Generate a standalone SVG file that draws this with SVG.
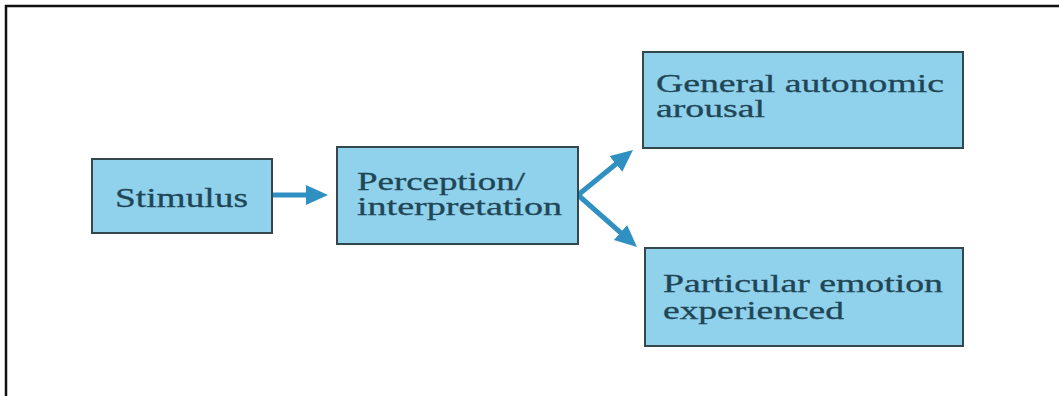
<svg xmlns="http://www.w3.org/2000/svg" width="1059" height="396" viewBox="0 0 1059 396">
  <style>
    .box { fill: #90d1ec; stroke: #34464e; stroke-width: 2; }
    .lbl { font-family: "Liberation Serif", "DejaVu Serif", serif; fill: #1f4656; stroke: #1f4656; stroke-width: 0.3; }
    .conn { stroke: #3190c2; stroke-width: 5; fill: none; }
    .frame { stroke: #111; stroke-width: 2.5; fill: none; }
  </style>
  <defs>
    <marker id="head" markerUnits="userSpaceOnUse" markerWidth="24" markerHeight="22" refX="2" refY="10" orient="auto">
      <path d="M0,0 L22,10 L0,20 Z" fill="#3190c2"/>
    </marker>
  </defs>
  <rect width="1059" height="396" fill="#ffffff"/>
  <path class="frame" d="M6,396 L6,6 L1059,6"/>

  <g id="connectors">
    <line class="conn" x1="272" y1="195" x2="308" y2="195" marker-end="url(#head)"/>
    <line class="conn" x1="578" y1="195" x2="617.5" y2="162.7" marker-end="url(#head)"/>
    <line class="conn" x1="578" y1="195" x2="622" y2="233.8" marker-end="url(#head)"/>
  </g>

  <g id="stimulus">
    <rect class="box" x="92" y="159" width="180" height="74"/>
    <text class="lbl" x="115" y="207" font-size="28" textLength="133" lengthAdjust="spacingAndGlyphs">Stimulus</text>
  </g>

  <g id="perception">
    <rect class="box" x="337" y="147" width="241" height="97"/>
    <text class="lbl" x="357" y="190" font-size="25" textLength="168" lengthAdjust="spacingAndGlyphs">Perception/</text>
    <text class="lbl" x="357" y="215" font-size="25" textLength="205" lengthAdjust="spacingAndGlyphs">interpretation</text>
  </g>

  <g id="general">
    <rect class="box" x="643" y="52" width="320" height="96"/>
    <text class="lbl" x="656" y="92" font-size="25" textLength="288" lengthAdjust="spacingAndGlyphs">General autonomic</text>
    <text class="lbl" x="656" y="117" font-size="25" textLength="109" lengthAdjust="spacingAndGlyphs">arousal</text>
  </g>

  <g id="particular">
    <rect class="box" x="645" y="248" width="318" height="98"/>
    <text class="lbl" x="663" y="292" font-size="26" textLength="280" lengthAdjust="spacingAndGlyphs">Particular emotion</text>
    <text class="lbl" x="663" y="319" font-size="26" textLength="181" lengthAdjust="spacingAndGlyphs">experienced</text>
  </g>
</svg>
